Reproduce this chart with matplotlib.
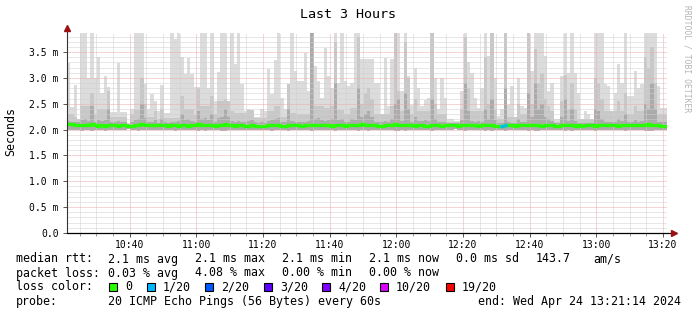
"""
plot.py - smokeping style latency graph (last 3 hours)
"""

from datetime import datetime, timedelta

import matplotlib
matplotlib.use("Agg")
import matplotlib.pyplot as plt
import matplotlib.dates as mdates
from matplotlib.patches import Rectangle
from matplotlib.ticker import MultipleLocator, FuncFormatter

# -------------------------
# Data (one sample per minute, values in milliseconds)
# -------------------------

start_time = datetime(2024, 4, 24, 10, 21, 14)
end_label = "end: Wed Apr 24 13:21:14 2024"

# highest ping of each round (values above the scale get cut off)
rtt_max = [
    3.29, 2.44, 2.86, 2.21, 4.50, 4.50, 3.00, 4.50, 3.00, 3.41,
    2.71, 3.04, 2.83, 2.34, 2.34, 3.29, 2.34, 2.34, 2.13, 2.39,
    4.50, 4.50, 4.50, 2.88, 2.39, 2.69, 2.56, 2.36, 2.86, 2.33,
    2.33, 4.50, 3.76, 4.50, 3.41, 3.07, 3.39, 3.07, 2.83, 2.83,
    4.50, 4.50, 2.81, 4.50, 2.56, 3.12, 4.50, 4.50, 2.56, 4.50,
    3.26, 4.50, 2.88, 2.36, 2.39, 2.25, 2.25, 2.25, 2.40, 2.36,
    3.17, 2.69, 3.35, 4.50, 2.62, 2.39, 2.88, 4.50, 3.13, 2.94,
    2.94, 3.49, 2.75, 4.50, 3.23, 2.94, 2.62, 3.58, 3.04, 2.81,
    4.50, 2.90, 4.50, 2.94, 2.85, 2.90, 4.50, 4.50, 3.36, 3.36,
    3.36, 3.36, 2.90, 2.90, 2.26, 3.39, 2.45, 3.36, 4.50, 4.50,
    2.75, 4.50, 3.04, 2.48, 3.20, 2.81, 2.45, 2.58, 2.62, 4.50,
    3.00, 2.39, 3.00, 2.62, 2.20, 2.20, 2.17, 2.17, 2.75, 4.50,
    3.30, 3.10, 2.62, 2.42, 2.81, 4.50, 3.43, 4.50, 3.00, 2.26,
    2.39, 4.50, 2.48, 2.85, 2.17, 3.00, 2.45, 2.42, 4.50, 3.13,
    4.50, 4.50, 4.50, 3.43, 2.75, 2.90, 2.20, 2.20, 3.04, 4.50,
    3.10, 4.50, 3.10, 2.71, 2.20, 2.36, 2.30, 2.20, 4.50, 4.50,
    4.50, 2.88, 2.85, 2.36, 2.71, 3.26, 2.90, 4.50, 2.65, 2.65,
    3.13, 2.81, 2.88, 4.50, 4.50, 4.50, 4.50, 2.85, 2.42, 2.42,
]

# upper quartile of each round
rtt_p75 = [
    2.30, 2.30, 2.25, 2.20, 2.45, 2.45, 2.45, 2.70, 2.30, 2.40,
    2.40, 2.40, 2.75, 2.25, 2.25, 2.25, 2.25, 2.25, 2.10, 2.30,
    2.38, 2.38, 3.00, 2.50, 2.25, 2.25, 2.35, 2.20, 2.40, 2.22,
    2.22, 2.22, 2.22, 2.22, 2.65, 2.40, 2.40, 2.40, 2.28, 2.80,
    2.45, 2.45, 2.45, 2.65, 2.30, 2.55, 2.55, 2.60, 2.55, 2.35,
    2.33, 2.33, 2.33, 2.33, 2.38, 2.38, 2.22, 2.22, 2.22, 2.22,
    2.36, 2.36, 2.45, 2.45, 2.25, 2.25, 2.88, 2.33, 2.33, 2.30,
    2.30, 2.30, 2.30, 4.50, 2.45, 2.45, 2.45, 2.42, 2.42, 2.45,
    3.70, 2.38, 2.38, 2.30, 2.30, 2.42, 2.42, 3.80, 2.50, 2.70,
    2.80, 2.60, 2.30, 2.30, 2.30, 2.30, 2.30, 2.45, 4.50, 2.75,
    2.35, 3.70, 3.00, 2.30, 2.60, 2.35, 2.35, 2.35, 2.35, 4.50,
    2.50, 2.30, 2.30, 2.30, 2.15, 2.15, 2.15, 2.15, 2.40, 3.80,
    2.80, 2.35, 2.35, 2.35, 2.35, 3.40, 2.50, 4.50, 2.40, 2.20,
    2.20, 4.50, 2.25, 2.25, 2.25, 2.50, 2.30, 2.30, 4.50, 2.50,
    3.55, 2.90, 3.10, 2.60, 2.45, 2.35, 2.15, 2.15, 2.55, 3.05,
    2.40, 2.90, 2.40, 2.20, 2.20, 2.20, 2.20, 2.20, 3.00, 2.90,
    2.60, 2.35, 2.35, 2.35, 2.35, 2.55, 2.35, 2.70, 2.30, 2.30,
    2.45, 2.35, 2.35, 3.40, 3.20, 3.60, 2.90, 2.30, 2.30, 2.30,
]

# pings just above the median
rtt_p60 = [
    2.16, 2.15, 2.15, 2.14, 2.18, 2.20, 2.16, 2.45, 2.15, 2.18,
    2.16, 2.18, 2.40, 2.14, 2.14, 2.16, 2.14, 2.15, 2.10, 2.15,
    2.18, 2.20, 2.50, 2.22, 2.15, 2.14, 2.18, 2.13, 2.20, 2.14,
    2.13, 2.15, 2.14, 2.16, 2.30, 2.18, 2.20, 2.16, 2.15, 2.35,
    2.20, 2.22, 2.18, 2.30, 2.15, 2.22, 2.25, 2.40, 2.25, 2.16,
    2.15, 2.16, 2.15, 2.14, 2.16, 2.18, 2.14, 2.13, 2.14, 2.13,
    2.16, 2.18, 2.20, 2.22, 2.14, 2.14, 2.40, 2.16, 2.15, 2.14,
    2.15, 2.15, 2.16, 3.90, 2.20, 2.22, 2.18, 2.16, 2.18, 2.20,
    2.90, 2.18, 2.20, 2.15, 2.15, 2.20, 2.18, 2.80, 2.25, 2.30,
    2.35, 2.25, 2.15, 2.14, 2.14, 2.16, 2.14, 2.20, 2.50, 2.60,
    2.16, 2.70, 2.40, 2.14, 2.25, 2.16, 2.16, 2.18, 2.16, 2.60,
    2.20, 2.14, 2.15, 2.14, 2.12, 2.12, 2.12, 2.12, 2.18, 2.90,
    2.35, 2.16, 2.15, 2.16, 2.15, 2.40, 2.20, 2.60, 2.18, 2.12,
    2.12, 2.80, 2.14, 2.13, 2.12, 2.20, 2.14, 2.14, 2.70, 2.25,
    2.90, 2.40, 2.50, 2.25, 2.20, 2.16, 2.12, 2.12, 2.25, 2.60,
    2.16, 2.40, 2.16, 2.13, 2.12, 2.13, 2.12, 2.12, 2.40, 2.35,
    2.20, 2.15, 2.15, 2.14, 2.15, 2.20, 2.16, 2.30, 2.14, 2.14,
    2.18, 2.15, 2.16, 2.50, 2.40, 2.90, 2.40, 2.15, 2.14, 2.14,
]

# lowest ping of each round
rtt_min = [
    2.00, 1.99, 1.99, 2.00, 1.98, 1.99, 2.00, 1.98, 1.99, 2.00,
    1.99, 1.98, 1.99, 2.00, 2.00, 1.99, 2.00, 1.99, 2.01, 2.00,
    1.99, 1.98, 1.99, 2.00, 2.00, 1.99, 1.99, 2.00, 2.00, 1.99,
    2.00, 1.99, 1.98, 1.99, 1.99, 2.00, 1.99, 2.00, 2.00, 1.98,
    1.99, 1.98, 1.99, 1.99, 2.00, 1.99, 1.98, 1.98, 1.99, 2.00,
    1.99, 2.00, 2.00, 1.99, 1.99, 2.00, 2.00, 1.99, 2.00, 1.99,
    1.99, 1.98, 2.00, 1.99, 2.00, 2.00, 1.98, 1.99, 2.00, 1.99,
    2.00, 1.99, 1.99, 1.97, 1.99, 2.00, 1.99, 1.99, 2.00, 1.99,
    1.98, 1.99, 1.99, 2.00, 2.00, 1.99, 1.99, 1.98, 1.99, 1.99,
    1.98, 1.99, 2.00, 2.00, 1.99, 2.00, 2.00, 1.99, 1.98, 1.98,
    1.99, 1.98, 1.99, 2.00, 1.99, 2.00, 1.99, 1.99, 2.00, 1.98,
    1.99, 2.00, 2.00, 1.99, 2.00, 2.00, 2.01, 2.00, 1.99, 1.98,
    1.99, 2.00, 1.99, 2.00, 1.99, 1.98, 1.99, 1.98, 1.99, 2.00,
    2.00, 1.98, 2.00, 1.99, 2.00, 1.99, 2.00, 1.99, 1.98, 1.99,
    1.97, 1.98, 1.99, 1.99, 1.99, 2.00, 2.00, 2.00, 1.99, 1.98,
    1.99, 1.98, 1.99, 2.00, 2.00, 1.99, 2.00, 2.00, 1.98, 1.99,
    1.99, 2.00, 1.99, 2.00, 1.99, 1.99, 2.00, 1.98, 1.99, 2.00,
    1.99, 2.00, 1.99, 1.98, 1.98, 1.98, 1.99, 2.00, 1.99, 2.00,
]

# median rtt of each round
rtt_median = [
    2.10, 2.10, 2.08, 2.08, 2.08, 2.09, 2.08, 2.10, 2.09, 2.07,
    2.08, 2.07, 2.09, 2.08, 2.08, 2.07, 2.08, 2.08, 2.07, 2.07,
    2.08, 2.09, 2.10, 2.09, 2.08, 2.08, 2.09, 2.08, 2.09, 2.08,
    2.07, 2.08, 2.09, 2.07, 2.08, 2.09, 2.07, 2.08, 2.09, 2.10,
    2.09, 2.08, 2.08, 2.08, 2.07, 2.09, 2.08, 2.10, 2.09, 2.08,
    2.07, 2.08, 2.08, 2.07, 2.07, 2.09, 2.07, 2.07, 2.06, 2.07,
    2.08, 2.08, 2.09, 2.08, 2.07, 2.07, 2.08, 2.08, 2.09, 2.08,
    2.07, 2.08, 2.09, 2.09, 2.08, 2.08, 2.09, 2.08, 2.08, 2.07,
    2.09, 2.08, 2.08, 2.07, 2.08, 2.09, 2.08, 2.08, 2.10, 2.09,
    2.08, 2.09, 2.08, 2.07, 2.07, 2.08, 2.08, 2.09, 2.10, 2.08,
    2.09, 2.08, 2.08, 2.08, 2.07, 2.08, 2.08, 2.07, 2.07, 2.09,
    2.08, 2.08, 2.07, 2.08, 2.09, 2.08, 2.08, 2.07, 2.08, 2.08,
    2.09, 2.08, 2.08, 2.07, 2.08, 2.09, 2.08, 2.08, 2.07, 2.07,
    2.07, 2.08, 2.08, 2.09, 2.07, 2.08, 2.08, 2.08, 2.09, 2.08,
    2.09, 2.08, 2.07, 2.08, 2.08, 2.08, 2.07, 2.07, 2.08, 2.09,
    2.08, 2.08, 2.07, 2.08, 2.07, 2.08, 2.08, 2.08, 2.07, 2.08,
    2.09, 2.08, 2.09, 2.08, 2.08, 2.07, 2.08, 2.08, 2.08, 2.09,
    2.09, 2.08, 2.08, 2.09, 2.10, 2.09, 2.08, 2.08, 2.07, 2.07,
]

# minutes that lost packets and how many of 20
loss_minutes = [130, 131]
loss_counts = [1, 1]

loss_labels = ["0", "1/20", "2/20", "3/20", "4/20", "10/20", "19/20"]
loss_levels = [0, 1, 2, 3, 4, 10, 19]
loss_colors = ["#26ff00", "#00b8ff", "#0059ff", "#5e00ff",
               "#7e00ff", "#dd00ff", "#ff0000"]

rtt_stats = ["2.1 ms avg", "2.1 ms max", "2.1 ms min", "2.1 ms now",
             "0.0 ms sd", "143.7", "am/s"]
loss_stats = ["0.03 % avg", "4.08 % max", "0.00 % min", "0.00 % now"]
probe_text = "20 ICMP Echo Pings (56 Bytes) every 60s"

# -------------------------
# Figure
# -------------------------

W, H = 697, 315
MONO = "DejaVu Sans Mono"

fig = plt.figure(figsize=(W / 100, H / 100), dpi=100)
fig.patch.set_facecolor("white")

# plot area: x 67..667, y 33..233 (pixels)
ax = fig.add_axes([67 / W, (H - 233) / H, 600 / W, 200 / H])
ax.set_facecolor("white")

step = 1 / 1440
times = [mdates.date2num(start_time + timedelta(minutes=i))
         for i in range(len(rtt_max))]
t_end = times[-1] + step

# -------------------------
# Smoke
# -------------------------

def band(low, high, color):
    heights = [h - l for l, h in zip(low, high)]
    ax.bar(times, heights, bottom=low, width=step, align="edge",
           color=color, linewidth=0, antialiased=False, zorder=1)

band(rtt_min, rtt_max, "#dcdcdc")
band(rtt_min, rtt_p75, "#c8c8c8")
band(rtt_min, rtt_p60, "#ababab")
lower_dark = [m - 0.03 for m in rtt_median]
band(lower_dark, rtt_median, "#707070")

# -------------------------
# Median line coloured by loss
# -------------------------

ax.step(times + [t_end], rtt_median + [rtt_median[-1]], where="post",
        color=loss_colors[0], linewidth=2.4, zorder=5,
        solid_capstyle="butt")

for minute, count in zip(loss_minutes, loss_counts):
    idx = max(i for i, lv in enumerate(loss_levels) if lv <= count)
    ax.hlines(rtt_median[minute], times[minute], times[minute] + step,
              color=loss_colors[idx], linewidth=2.4, zorder=6)

# -------------------------
# Axes, grid, ticks
# -------------------------

ax.set_xlim(times[0], t_end)
ax.set_ylim(0, 200 / 51.71)

ax.xaxis.set_major_locator(mdates.MinuteLocator(byminute=[0, 20, 40]))
ax.xaxis.set_minor_locator(mdates.MinuteLocator(byminute=range(0, 60, 5)))
ax.xaxis.set_major_formatter(mdates.DateFormatter("%H:%M"))

ax.yaxis.set_major_locator(MultipleLocator(0.5))
ax.yaxis.set_minor_locator(MultipleLocator(0.1))
ax.yaxis.set_major_formatter(
    FuncFormatter(lambda v, p: "0.0" if abs(v) < 1e-9 else f"{v:.1f} m"))

ax.set_axisbelow(False)
ax.grid(which="minor", color="#d0d0d0", linestyle=(0, (1, 1)),
        linewidth=0.72, zorder=3)
ax.grid(which="major", color="#eaaaaa", linestyle=(0, (1, 1)),
        linewidth=0.72, zorder=3)

ax.tick_params(axis="both", which="major", direction="out", length=3,
               width=0.7, color="#555555", labelsize=7, labelcolor="black")
ax.tick_params(axis="x", which="minor", direction="out", length=2,
               width=0.7, color="#999999")
ax.tick_params(axis="y", which="minor", length=0)
ax.tick_params(axis="x", which="major", pad=2)
ax.tick_params(axis="y", which="major", pad=3)
for lbl in ax.get_xticklabels() + ax.get_yticklabels():
    lbl.set_family(MONO)

for side in ["top", "right", "left", "bottom"]:
    ax.spines[side].set_visible(False)

# axis lines with arrow heads, drawn past the plot area
ax.plot([0, 0], [0, 1.025], transform=ax.transAxes, color="#333333",
        linewidth=0.8, clip_on=False, zorder=7)
ax.plot([0, 1.011], [0, 0], transform=ax.transAxes, color="black",
        linewidth=0.9, clip_on=False, zorder=7)
ax.plot([0], [1.025], marker="^", markersize=4, color="#9b1010",
        transform=ax.transAxes, clip_on=False, zorder=8)
ax.plot([1.011], [0], marker=">", markersize=4, color="#9b1010",
        transform=ax.transAxes, clip_on=False, zorder=8)

# -------------------------
# Texts
# -------------------------

def px(x, y):
    return x / W, 1 - y / H

fig.text(*px(348, 14), "Last 3 Hours", ha="center", va="center",
         family=MONO, fontsize=9.6)
fig.text(*px(11, 131), "Seconds", ha="center", va="center",
         rotation=90, family=MONO, fontsize=8.4)
fig.text(*px(687, 59), "RRDTOOL / TOBI OETIKER", ha="center", va="center",
         rotation=-90, family=MONO, fontsize=5.8, color="#b4b4b4")

LEG = dict(family=MONO, fontsize=8.4, va="center", ha="left")

fig.text(*px(16, 259), "median rtt:", **LEG)
for x, s in zip([108, 195, 282, 369, 456, 536, 593], rtt_stats):
    fig.text(*px(x, 259), s, **LEG)

fig.text(*px(16, 273), "packet loss:", **LEG)
for x, s in zip([108, 195, 282, 369], loss_stats):
    fig.text(*px(x, 273), s, **LEG)

fig.text(*px(16, 287), "loss color:", **LEG)
for x, lab, col in zip([109, 147, 205, 264, 322, 380, 446],
                       loss_labels, loss_colors):
    fig.patches.append(Rectangle(px(x, 291), 8 / W, 8 / H,
                                 transform=fig.transFigure, facecolor=col,
                                 edgecolor="black", linewidth=0.8))
    fig.text(*px(x + 16, 287), lab, **LEG)

fig.text(*px(16, 301), "probe:", **LEG)
fig.text(*px(108, 301), probe_text, **LEG)
fig.text(*px(681, 301), end_label, family=MONO, fontsize=8.4,
         va="center", ha="right")

fig.savefig("out.png", dpi=100, facecolor="white")
